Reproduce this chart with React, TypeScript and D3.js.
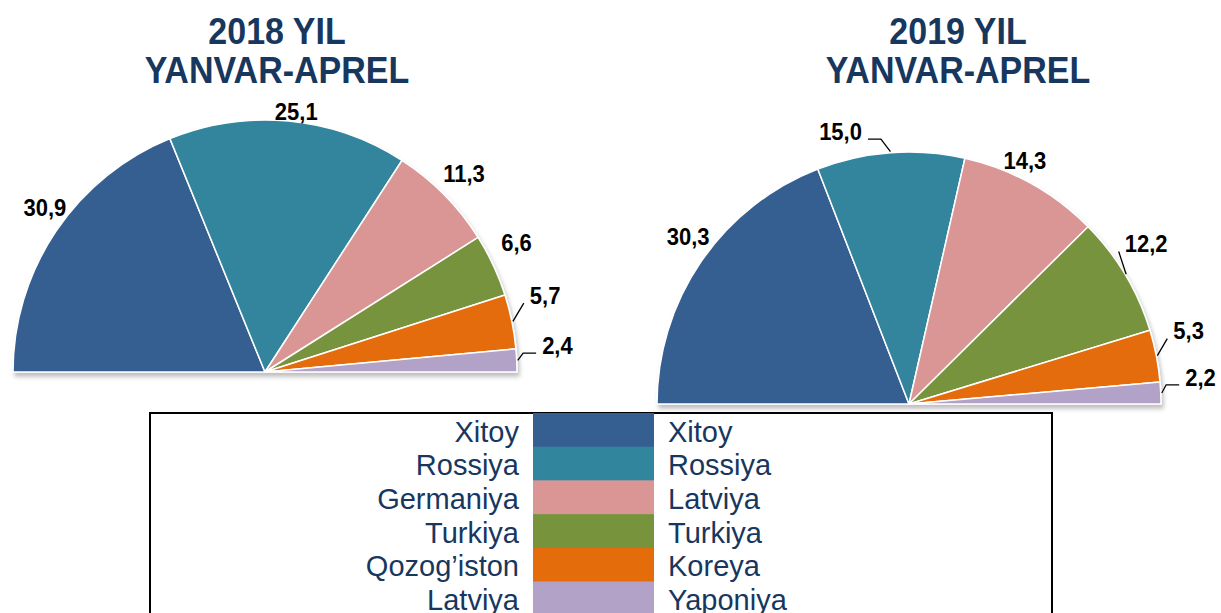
import React from 'react'
import * as d3 from 'd3'

// 2018 yanvar-aprel
const categories2018 = ['Xitoy', 'Rossiya', 'Germaniya', 'Turkiya', 'Qozog’iston', 'Latviya']
const values2018 = [30.9, 25.1, 11.3, 6.6, 5.7, 2.4]
// 2019 yanvar-aprel
const categories2019 = ['Xitoy', 'Rossiya', 'Latviya', 'Turkiya', 'Koreya', 'Yaponiya']
const values2019 = [30.3, 15.0, 14.3, 12.2, 5.3, 2.2]

const colors = ['#365F91', '#31859C', '#D99694', '#77933C', '#E46C0A', '#B3A2C7']

// label layout: nudge from default spot, leader style (0 none, 1 straight, 2 elbow)
const nudge2018 = [[12, -9], [5, 18], [0, -2], [-2, -11], [6, -21], [13, -14]]
const leader2018 = [0, 0, 0, 0, 1, 2]
const nudge2019 = [[10, -10], [-48, 6], [-20, 1], [-3, -17], [5, -20], [12, -15]]
const leader2019 = [0, 2, 0, 1, 1, 2]

const W = 1221
const H = 613
const R = 252
const FONT = 'Arial, "Liberation Sans", sans-serif'
const TITLE_COLOR = '#17375E'
const LABEL_FS = 22

const fmt = (v: number) => d3.format('.1f')(v).replace('.', ',')
const textW = (s: string) => s.split('').reduce((a, c) => a + (c === ',' ? 0.278 : 0.556), 0) * LABEL_FS

function HalfPie({ cx, cy, values, nudges, leaders, title, tx }: any) {
	const pie = d3.pie<number>().sort(null).value(d => d).startAngle(-Math.PI / 2).endAngle(Math.PI / 2)
	const arcs = pie(values)
	const arc = d3.arc<d3.PieArcDatum<number>>().innerRadius(0).outerRadius(R)
	const polar = (a: number, r: number) => [Math.sin(a) * r, -Math.cos(a) * r]

	return (
		<g>
			<text transform={`translate(${tx},44) scale(1,1.1)`} textAnchor='middle' fontFamily={FONT} fontWeight='bold' fontSize={34} fill={TITLE_COLOR}>{title}</text>
			<text transform={`translate(${tx},83) scale(1,1.1)`} textAnchor='middle' fontFamily={FONT} fontWeight='bold' fontSize={34} fill={TITLE_COLOR}>YANVAR-APREL</text>
			<g transform={`translate(${cx},${cy})`}>
				<g filter='url(#shadow)'>
					{arcs.map((d, i) => (
						<path key={i} d={arc(d) || ''} fill={colors[i]} stroke='#fff' strokeWidth={1.5} strokeLinejoin='round' />
					))}
				</g>
				{arcs.map((d, i) => {
					const mid = (d.startAngle + d.endAngle) / 2
					const p = polar(mid, R * 1.11)
					const lx = p[0] + nudges[i][0]
					const ly = p[1] + nudges[i][1]
					const s = fmt(values[i])
					const w = textW(s)
					let line = null
					if (leaders[i]) {
						const st = polar(mid, R + 1)
						const onLeft = lx < st[0]
						const ex = onLeft ? lx + w / 2 + 6 : lx - w / 2 - 6
						const ey = ly + 8
						const pts = [st]
						if (leaders[i] === 2) pts.push([onLeft ? ex + 13 : ex - 13, ey])
						pts.push([ex, ey])
						line = <path d={d3.line()(pts as [number, number][]) || ''} fill='none' stroke='#000' strokeWidth={1.3} />
					}
					return (
						<g key={'l' + i}>
							{line}
							<text transform={`translate(${lx},${ly}) scale(1,1.1)`} dy='0.36em' textAnchor='middle' fontFamily={FONT} fontWeight='bold' fontSize={LABEL_FS} fill='#000'>{s}</text>
						</g>
					)
				})}
			</g>
		</g>
	)
}

function Legend() {
	const top = 413
	const rowH = 33.7
	const y = d3.scaleLinear().domain([0, 1]).range([top, top + rowH])
	return (
		<g>
			<rect x={150} y={top} width={902} height={240} fill='#fff' stroke='#000' strokeWidth={2} />
			{categories2018.map((c, i) => (
				<g key={i}>
					<rect x={533} y={y(i)} width={121} height={rowH + 0.5} fill={colors[i]} />
					<text x={519} y={y(i) + 28.5} textAnchor='end' fontFamily={FONT} fontSize={29} fill={TITLE_COLOR}>{c}</text>
					<text x={668} y={y(i) + 28.5} textAnchor='start' fontFamily={FONT} fontSize={29} fill={TITLE_COLOR}>{categories2019[i]}</text>
				</g>
			))}
		</g>
	)
}

export default function App() {
	return (
		<svg width={W} height={H} style={{ position: 'absolute', left: 0, top: 0, background: '#fff' }}>
			<defs>
				<filter id='shadow' x='-10%' y='-10%' width='120%' height='130%'>
					<feDropShadow dx={2} dy={4} stdDeviation={2} floodColor='#000' floodOpacity={0.25} />
				</filter>
			</defs>
			<HalfPie cx={265} cy={372} values={values2018} nudges={nudge2018} leaders={leader2018} title='2018 YIL' tx={277} />
			<HalfPie cx={909} cy={404} values={values2019} nudges={nudge2019} leaders={leader2019} title='2019 YIL' tx={958} />
			<Legend />
		</svg>
	)
}
